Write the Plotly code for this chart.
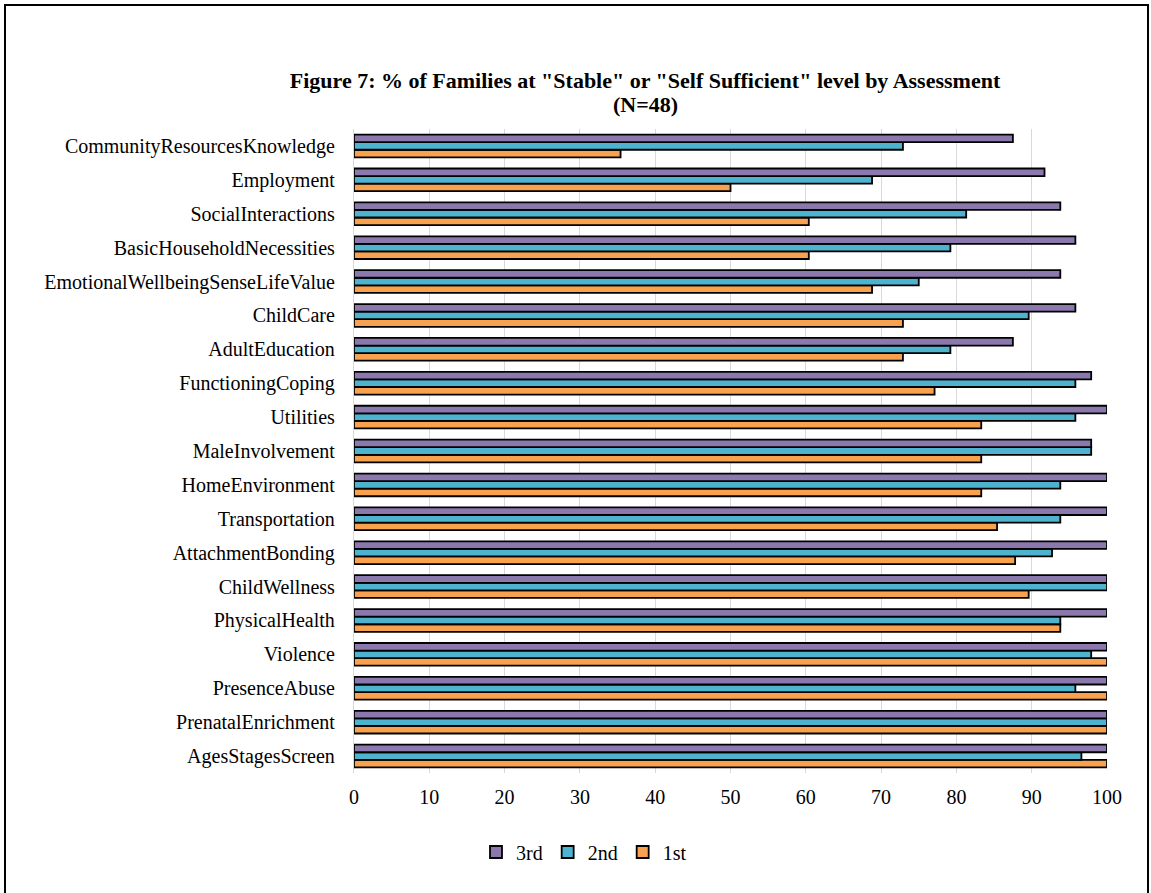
import plotly.graph_objects as go

categories = [
    "CommunityResourcesKnowledge", "Employment", "SocialInteractions",
    "BasicHouseholdNecessities", "EmotionalWellbeingSenseLifeValue", "ChildCare",
    "AdultEducation", "FunctioningCoping", "Utilities", "MaleInvolvement",
    "HomeEnvironment", "Transportation", "AttachmentBonding", "ChildWellness",
    "PhysicalHealth", "Violence", "PresenceAbuse", "PrenatalEnrichment",
    "AgesStagesScreen",
]
third = [87.5, 91.7, 93.8, 95.8, 93.8, 95.8, 87.5, 97.9, 100, 97.9,
         100, 100, 100, 100, 100, 100, 100, 100, 100]
second = [72.9, 68.8, 81.3, 79.2, 75.0, 89.6, 79.2, 95.8, 95.8, 97.9,
          93.8, 93.8, 92.7, 100, 93.8, 97.9, 95.8, 100, 96.6]
first = [35.4, 50.0, 60.4, 60.4, 68.8, 72.9, 72.9, 77.1, 83.3, 83.3,
         83.3, 85.4, 87.8, 89.6, 93.8, 100, 100, 100, 100]
x_ticks = [0, 10, 20, 30, 40, 50, 60, 70, 80, 90, 100]
title_line1 = 'Figure 7: % of Families at "Stable" or "Self Sufficient" level by Assessment'
title_line2 = '(N=48)'

W, H = 1151, 893
L, R, T, B = 354, 1107, 129, 773

FONT = "Liberation Serif, Times New Roman, serif"

fig = go.Figure()
for name, vals, color in [("1st", first, "#F8A14F"),
                          ("2nd", second, "#4EB3CE"),
                          ("3rd", third, "#8B79AE")]:
    fig.add_trace(go.Bar(
        name=name, y=categories, x=vals, orientation="h",
        marker=dict(color=color, line=dict(color="black", width=1.8)),
    ))

pw, ph = R - L, B - T
def px(x):
    return (x - L) / pw
def py(y):
    return (B - y) / ph

fig.update_layout(
    width=W, height=H,
    margin=dict(l=L, r=W - R, t=T, b=H - B, autoexpand=False),
    paper_bgcolor="white", plot_bgcolor="white",
    barmode="group", bargap=0.33, bargroupgap=0,
    font=dict(family=FONT, size=20, color="black"),
    title=dict(
        text="<b>" + title_line1 + "</b>",
        x=645 / W, xanchor="center", y=1 - 80 / H, yanchor="middle",
        font=dict(family=FONT, size=22, color="black"),
    ),
    annotations=[dict(
        text="<b>" + title_line2 + "</b>", xref="paper", yref="paper",
        x=px(645), y=py(105), xanchor="center", yanchor="middle",
        showarrow=False, font=dict(family=FONT, size=22, color="black"),
    )],
    legend=dict(
        orientation="h", traceorder="reversed",
        x=px(584), xanchor="center", y=py(852), yanchor="middle",
        font=dict(family=FONT, size=20, color="black"),
        itemwidth=30, bgcolor="rgba(0,0,0,0)",
    ),
    showlegend=True,
    shapes=[dict(type="rect", xref="paper", yref="paper",
                 x0=px(5), x1=px(1148), y0=py(900), y1=py(5),
                 line=dict(color="black", width=2), layer="above")],
)
fig.update_xaxes(
    range=[0, 100], tickvals=x_ticks, ticktext=[str(v) for v in x_ticks],
    showgrid=True, gridcolor="#D9D9D9", gridwidth=1.3,
    zeroline=False, showline=False, ticks="", ticklabelstandoff=10,
    tickfont=dict(family=FONT, size=20),
)
fig.update_yaxes(
    categoryorder="array", categoryarray=categories[::-1],
    showgrid=False, zeroline=False, showline=True, linecolor="#D9D9D9",
    linewidth=1.3, ticks="", ticklabelstandoff=14,
    tickfont=dict(family=FONT, size=20),
)

fig.write_html("out.html", config={"displayModeBar": False},
               post_script="document.body.style.margin='0';document.body.style.overflow='hidden';")
